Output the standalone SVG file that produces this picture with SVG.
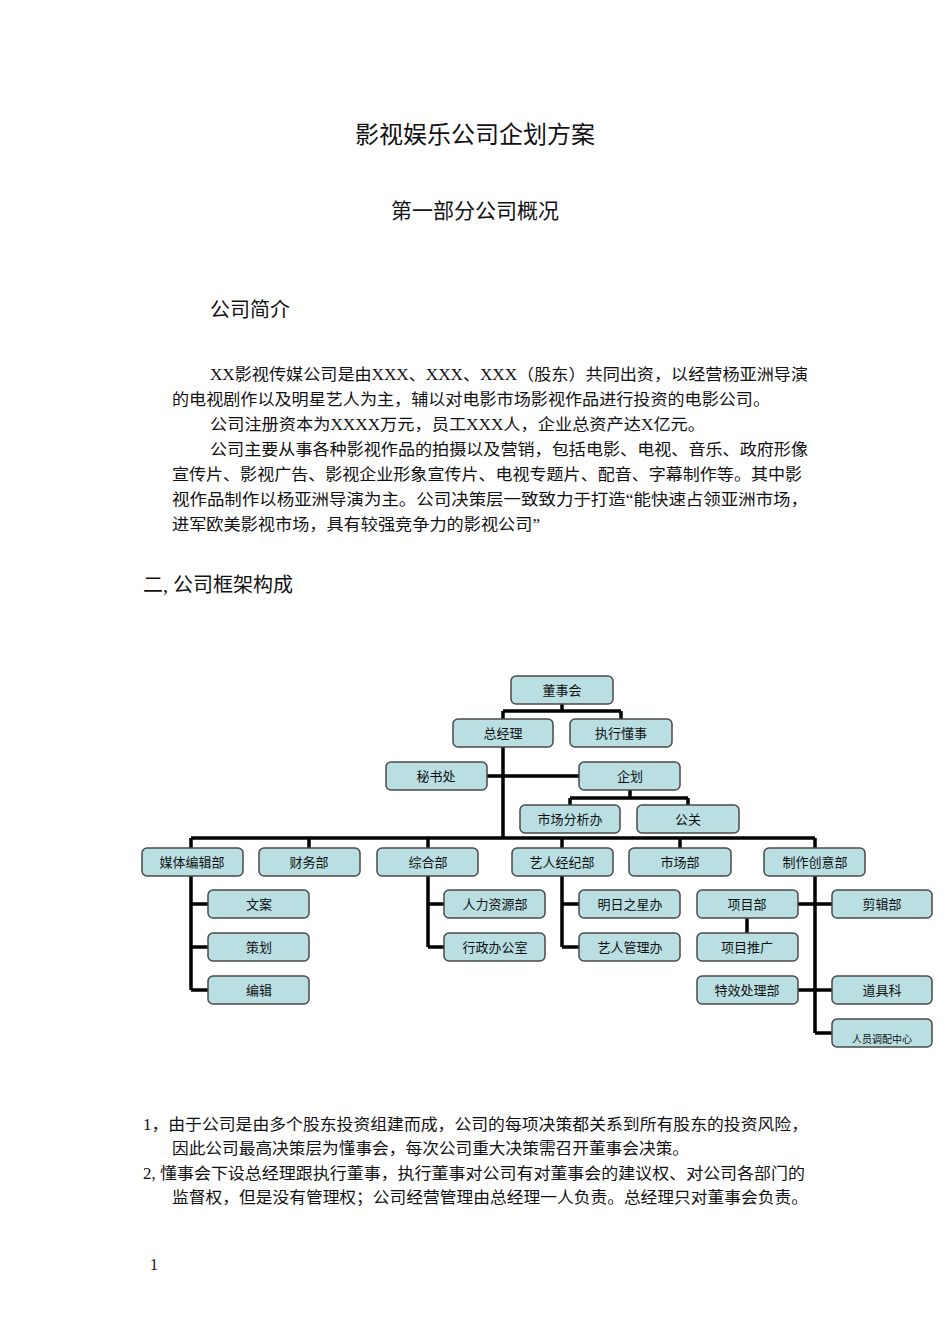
<svg xmlns="http://www.w3.org/2000/svg" width="950" height="1344" viewBox="0 0 950 1344">
<style>
text{font-family:"Liberation Serif","Noto Sans CJK SC",serif;fill:#111}
.b rect{fill:#b9dfe3;stroke:#4a4a4a;stroke-width:1.5}
.b text{font-size:13px;text-anchor:middle}
.p{font-size:16px}
#conn{stroke:#000;stroke-width:3.5;fill:none}
</style>
<rect width="950" height="1344" fill="#fff"/>
<text x="475" y="143" font-size="24" text-anchor="middle">影视娱乐公司企划方案</text>
<text x="475" y="218" font-size="21" text-anchor="middle">第一部分公司概况</text>
<text x="210" y="317" font-size="20">公司简介</text>
<text class="p" x="210" y="380" textLength="598" lengthAdjust="spacingAndGlyphs">XX影视传媒公司是由XXX、XXX、XXX（股东）共同出资，以经营杨亚洲导演</text>
<text class="p" x="172" y="405" textLength="598" lengthAdjust="spacingAndGlyphs">的电视剧作以及明星艺人为主，辅以对电影市场影视作品进行投资的电影公司。</text>
<text class="p" x="210" y="430" textLength="495" lengthAdjust="spacingAndGlyphs">公司注册资本为XXXX万元，员工XXX人，企业总资产达X亿元。</text>
<text class="p" x="210" y="455" textLength="598" lengthAdjust="spacingAndGlyphs">公司主要从事各种影视作品的拍摄以及营销，包括电影、电视、音乐、政府形像</text>
<text class="p" x="172" y="480" textLength="630" lengthAdjust="spacingAndGlyphs">宣传片、影视广告、影视企业形象宣传片、电视专题片、配音、字幕制作等。其中影</text>
<text class="p" x="172" y="505" textLength="636" lengthAdjust="spacingAndGlyphs">视作品制作以杨亚洲导演为主。公司决策层一致致力于打造“能快速占领亚洲市场，</text>
<text class="p" x="172" y="530" textLength="368" lengthAdjust="spacingAndGlyphs">进军欧美影视市场，具有较强竞争力的影视公司”</text>
<text x="143" y="592" font-size="20">二, 公司框架构成</text>
<g id="conn">
<path d="M562 704V711M503 711H621M503 711V719M621 711V719"/>
<path d="M503 747V838M487 776H579"/>
<path d="M630 790V798M570 798H688M570 798V805M688 798V805"/>
<path d="M191 838H815M191 838V848M309 838V848M428 838V848M562 838V848M680 838V848M815 838V848"/>
<path d="M191 876V990M191 904H208M191 947H208M191 990H208"/>
<path d="M428 876V947M428 904H444M428 947H444"/>
<path d="M562 876V947M562 904H579M562 947H579"/>
<path d="M815 876V1033M798 904H832M798 990H832M815 1033H832M747 918V933"/>
</g>
<g class="b">
<g id="n1"><rect x="511" y="676" width="102" height="28" rx="5"/><text x="562" y="695">董事会</text></g>
<g id="n2"><rect x="453" y="719" width="100" height="28" rx="5"/><text x="503" y="738">总经理</text></g>
<g id="n3"><rect x="570" y="719" width="102" height="28" rx="5"/><text x="621" y="738">执行懂事</text></g>
<g id="n4"><rect x="386" y="762" width="101" height="28" rx="5"/><text x="436" y="781">秘书处</text></g>
<g id="n5"><rect x="579" y="762" width="101" height="28" rx="5"/><text x="630" y="781">企划</text></g>
<g id="n6"><rect x="520" y="805" width="100" height="28" rx="5"/><text x="570" y="824">市场分析办</text></g>
<g id="n7"><rect x="637" y="805" width="102" height="28" rx="5"/><text x="688" y="824">公关</text></g>
<g id="n8"><rect x="142" y="848" width="101" height="28" rx="5"/><text x="192" y="867">媒体编辑部</text></g>
<g id="n9"><rect x="259" y="848" width="101" height="28" rx="5"/><text x="309" y="867">财务部</text></g>
<g id="n10"><rect x="377" y="848" width="101" height="28" rx="5"/><text x="428" y="867">综合部</text></g>
<g id="n11"><rect x="512" y="848" width="101" height="28" rx="5"/><text x="562" y="867">艺人经纪部</text></g>
<g id="n12"><rect x="629" y="848" width="102" height="28" rx="5"/><text x="680" y="867">市场部</text></g>
<g id="n13"><rect x="764" y="848" width="101" height="28" rx="5"/><text x="815" y="867">制作创意部</text></g>
<g id="n14"><rect x="208" y="890" width="101" height="28" rx="5"/><text x="259" y="909">文案</text></g>
<g id="n15"><rect x="208" y="933" width="101" height="28" rx="5"/><text x="259" y="952">策划</text></g>
<g id="n16"><rect x="208" y="976" width="101" height="28" rx="5"/><text x="259" y="995">编辑</text></g>
<g id="n17"><rect x="444" y="890" width="101" height="28" rx="5"/><text x="495" y="909">人力资源部</text></g>
<g id="n18"><rect x="444" y="933" width="101" height="28" rx="5"/><text x="495" y="952">行政办公室</text></g>
<g id="n19"><rect x="579" y="890" width="101" height="28" rx="5"/><text x="630" y="909">明日之星办</text></g>
<g id="n20"><rect x="579" y="933" width="101" height="28" rx="5"/><text x="630" y="952">艺人管理办</text></g>
<g id="n21"><rect x="697" y="890" width="101" height="28" rx="5"/><text x="747" y="909">项目部</text></g>
<g id="n22"><rect x="697" y="933" width="101" height="28" rx="5"/><text x="747" y="952">项目推广</text></g>
<g id="n23"><rect x="697" y="976" width="101" height="28" rx="5"/><text x="747" y="995">特效处理部</text></g>
<g id="n24"><rect x="832" y="890" width="100" height="28" rx="5"/><text x="882" y="909">剪辑部</text></g>
<g id="n25"><rect x="832" y="976" width="100" height="28" rx="5"/><text x="882" y="995">道具科</text></g>
<g id="n26"><rect x="832" y="1019" width="100" height="28" rx="5"/><text x="882" y="1043" style="font-size:10px">人员调配中心</text></g>
</g>
<text class="p" x="143" y="1130" textLength="665" lengthAdjust="spacingAndGlyphs">1，由于公司是由多个股东投资组建而成，公司的每项决策都关系到所有股东的投资风险，</text>
<text class="p" x="172" y="1154" textLength="517" lengthAdjust="spacingAndGlyphs">因此公司最高决策层为懂事会，每次公司重大决策需召开董事会决策。</text>
<text class="p" x="143" y="1179" textLength="662" lengthAdjust="spacingAndGlyphs">2, 懂事会下设总经理跟执行董事，执行董事对公司有对董事会的建议权、对公司各部门的</text>
<text class="p" x="172" y="1203" textLength="636" lengthAdjust="spacingAndGlyphs">监督权，但是没有管理权；公司经营管理由总经理一人负责。总经理只对董事会负责。</text>
<text class="p" x="150" y="1270">1</text>
</svg>
